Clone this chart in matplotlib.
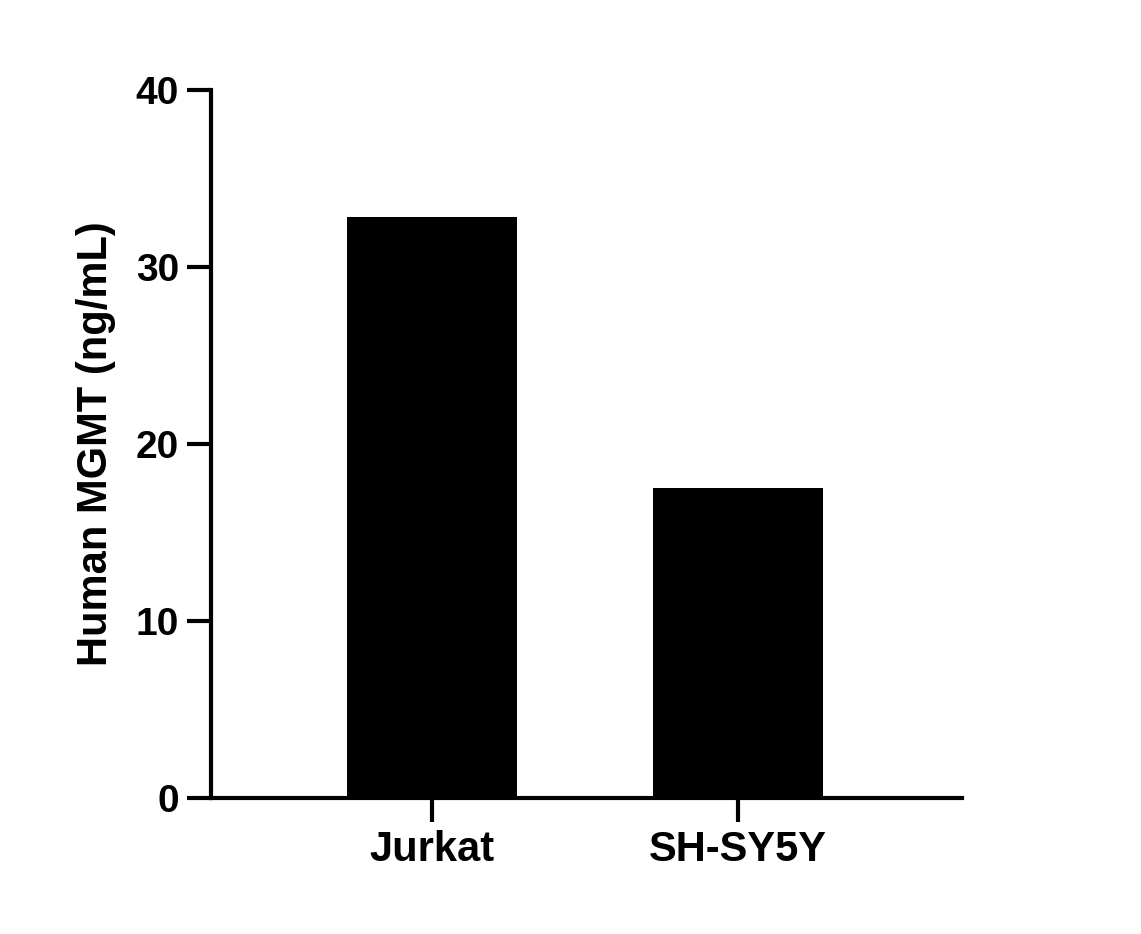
import matplotlib
matplotlib.use("Agg")
import matplotlib.pyplot as plt
import numpy as np

CATEGORIES = ["Jurkat", "SH-SY5Y"]
VALUES = [32.8, 17.5]
Y_TICKS = [0, 10, 20, 30, 40]

plt.rcParams["font.family"] = ["Liberation Sans", "DejaVu Sans"]
plt.rcParams["font.weight"] = "bold"

fig = plt.figure(figsize=(11.41, 9.34), dpi=100)
ax = fig.add_axes([0.1849, 0.1456, 0.6582, 0.758])
x = np.arange(len(CATEGORIES))
ax.bar(x, VALUES, width=0.556, color="black")
ax.set_xlim(-0.722, 1.732)
ax.set_ylim(0, 40)
ax.set_yticks(Y_TICKS)
ax.set_xticks(x)
ax.set_xticklabels(CATEGORIES, fontsize=30, fontweight="bold")
ax.set_yticklabels([str(t) for t in Y_TICKS], fontsize=28, fontweight="bold")
for side in ["top", "right"]:
    ax.spines[side].set_visible(False)
for side in ["left", "bottom"]:
    ax.spines[side].set_linewidth(3)
ax.tick_params(width=3, length=17, pad=6)
ax.set_ylabel("Human MGMT (ng/mL)", fontsize=30, fontweight="bold", labelpad=14)
fig.savefig("out.png", dpi=100)
